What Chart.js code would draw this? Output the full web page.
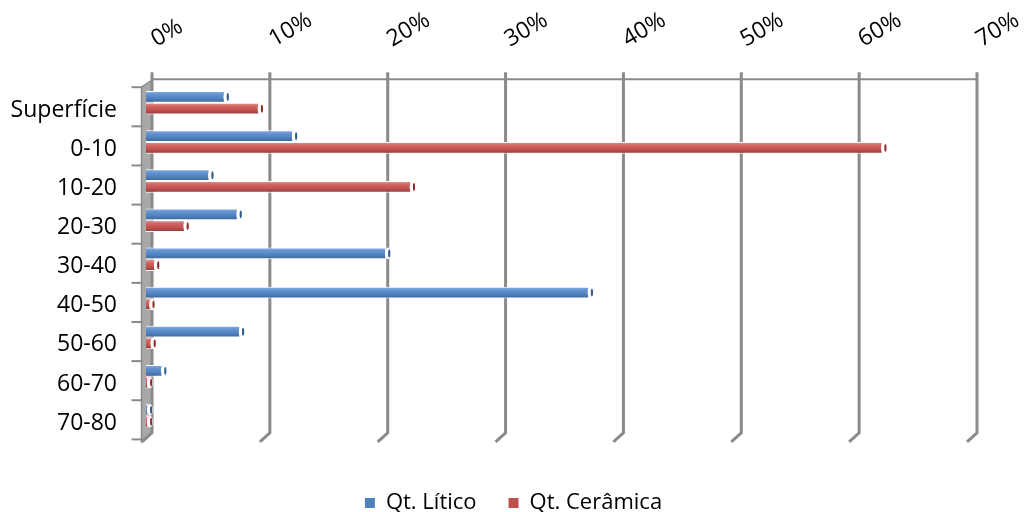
<!DOCTYPE html>
<html>
<head>
<meta charset="utf-8">
<script src="https://cdn.jsdelivr.net/npm/chart.js@4.4.1/dist/chart.umd.min.js"></script>
<style>
  html, body { margin: 0; padding: 0; background: #ffffff; }
  #wrap { width: 1027px; height: 512px; }
</style>
</head>
<body>
<div id="wrap"><canvas id="chart" width="1027" height="512"></canvas></div>
<script>
// Depth intervals (cm) and share of finds per interval, in percent
const categories = ['Superfície', '0-10', '10-20', '20-30', '30-40', '40-50', '50-60', '60-70', '70-80'];
const liticoPct = [6.7, 12.5, 5.4, 7.8, 20.4, 37.6, 8.0, 1.4, 0.2];
const ceramicaPct = [9.6, 62.5, 22.5, 3.3, 0.8, 0.4, 0.5, 0.2, 0.2];
const seriesNames = ['Qt. Lítico', 'Qt. Cerâmica'];
const axisMax = 70;
const axisStep = 10;

const baseColors = ['#4F81BD', '#C0504D'];
const cylinderStops = [
  ['#8fb2e0', '#6392d2', '#4f81bd', '#3a6394'],
  ['#e39593', '#d16664', '#c0504d', '#8e3a38']
];
const capColors = ['#2f5a8e', '#8a2f2d'];
const gridColor = '#8a8a8a';
const FONT = '"Open Sans", Lato, sans-serif';
const CAT_PCT = 0.6;

// Vertical shading so each bar reads as a cylinder
function cylinderFill(ds) {
  return (ctx) => {
    const chart = ctx.chart;
    const ys = chart.scales.y;
    if (!chart.chartArea || !ys || ctx.type !== 'data') return baseColors[ds];
    const band = (ys.bottom - ys.top) / categories.length;
    const t = band * CAT_PCT / 2;
    const c = ys.getPixelForValue(ctx.dataIndex);
    const top = ds === 0 ? c - t : c;
    const g = chart.ctx.createLinearGradient(0, top, 0, top + t);
    const s = cylinderStops[ds];
    g.addColorStop(0, s[0]);
    g.addColorStop(0.3, s[1]);
    g.addColorStop(0.65, s[2]);
    g.addColorStop(1, s[3]);
    return g;
  };
}

// Back wall, side wall, floor edges and category ticks in a shallow 3D look
const depthFrame = {
  id: 'depthFrame',
  beforeDatasetsDraw(chart) {
    const { ctx } = chart;
    const xs = chart.scales.x, ys = chart.scales.y;
    const back = 6, front = -4;
    const topLine = ys.top - 4;
    const gridTop = ys.top - 11;
    const backBottom = ys.bottom - 2.5;
    const frontBottom = ys.bottom + 6.5;
    ctx.save();
    // side wall
    const wx0 = xs.left + front - 0.5, wx1 = xs.left + back;
    ctx.fillStyle = '#a8a8a8';
    ctx.strokeStyle = gridColor;
    ctx.lineWidth = 1.5;
    ctx.beginPath();
    ctx.moveTo(wx0, topLine + 8);
    ctx.lineTo(wx1, topLine + 1);
    ctx.lineTo(wx1, backBottom);
    ctx.lineTo(wx0, frontBottom);
    ctx.closePath();
    ctx.fill();
    ctx.stroke();
    // top edge of the back wall
    ctx.lineWidth = 2;
    ctx.beginPath();
    ctx.moveTo(xs.left + back, topLine);
    ctx.lineTo(xs.getPixelForValue(axisMax) + back, topLine);
    ctx.stroke();
    // value grid lines with their floor return
    ctx.lineWidth = 3;
    for (let v = 0; v <= axisMax; v += axisStep) {
      const px = xs.getPixelForValue(v) + back;
      ctx.beginPath();
      ctx.moveTo(px, gridTop);
      ctx.lineTo(px, backBottom);
      ctx.lineTo(px - 10, frontBottom);
      ctx.stroke();
    }
    // category ticks on the front edge
    ctx.lineWidth = 2;
    for (let i = 0; i <= categories.length; i++) {
      const py = ys.getPixelForValue(i - 0.5) + 4;
      ctx.beginPath();
      ctx.moveTo(wx0 - 10, py);
      ctx.lineTo(wx0 + 1, py);
      ctx.stroke();
    }
    ctx.restore();
  },
  afterDatasetsDraw(chart) {
    const { ctx } = chart;
    chart.data.datasets.forEach((ds, d) => {
      chart.getDatasetMeta(d).data.forEach((bar) => {
        const { x, y, height } = bar.getProps(['x', 'y', 'height'], true);
        const h = Math.abs(height);
        ctx.save();
        ctx.fillStyle = '#ffffff';
        ctx.beginPath();
        ctx.ellipse(x + 1.5, y, 3, h / 2, 0, 0, Math.PI * 2);
        ctx.fill();
        ctx.fillStyle = capColors[d];
        ctx.beginPath();
        ctx.ellipse(x + 2.8, y, 1.1, Math.max(h / 2 - 2, 1), 0, 0, Math.PI * 2);
        ctx.fill();
        ctx.restore();
      });
    });
  }
};

new Chart(document.getElementById('chart'), {
  type: 'bar',
  data: {
    labels: categories,
    datasets: [
      { label: seriesNames[0], data: liticoPct, backgroundColor: cylinderFill(0),
        borderColor: '#ffffff', borderWidth: 1, borderSkipped: 'start' },
      { label: seriesNames[1], data: ceramicaPct, backgroundColor: cylinderFill(1),
        borderColor: '#ffffff', borderWidth: 1, borderSkipped: 'start' }
    ]
  },
  options: {
    indexAxis: 'y',
    responsive: false,
    animation: false,
    devicePixelRatio: 1,
    layout: { padding: { left: 0, right: 0, top: 0, bottom: -12 } },
    datasets: { bar: { categoryPercentage: CAT_PCT, barPercentage: 1 } },
    scales: {
      x: {
        position: 'top',
        min: 0,
        max: axisMax,
        ticks: {
          stepSize: axisStep,
          minRotation: 30,
          maxRotation: 30,
          color: '#000000',
          font: { family: FONT, size: 23 },
          padding: 30,
          labelOffset: 21,
          callback: (v) => v + '%'
        },
        grid: { display: false, drawTicks: false },
        border: { display: false },
        // keep the plot 56px clear of the right edge while the legend spans the full width
        afterFit: (s) => { s.height = 83.2; s.paddingLeft = 0; s.paddingRight = 56; }
      },
      y: {
        ticks: {
          color: '#000000',
          font: { family: FONT, size: 23, lineHeight: 0.64 },
          padding: 29,
          callback: (v, i) => ['', categories[i]]
        },
        grid: { display: false, drawTicks: false },
        border: { display: false },
        afterFit: (s) => { s.width = 146; }
      }
    },
    plugins: {
      tooltip: { enabled: false },
      legend: {
        position: 'bottom',
        title: { display: true, text: '', padding: { top: 15, bottom: 0 }, font: { size: 8 } },
        labels: {
          color: '#000000',
          font: { family: FONT, size: 22 },
          boxWidth: 10,
          boxHeight: 10,
          padding: 32,
          generateLabels: () => seriesNames.map((name, i) => ({
            text: name, fillStyle: baseColors[i], strokeStyle: baseColors[i],
            fontColor: '#000000', lineWidth: 0, datasetIndex: i, hidden: false
          }))
        }
      }
    }
  },
  plugins: [depthFrame]
});
</script>
</body>
</html>
